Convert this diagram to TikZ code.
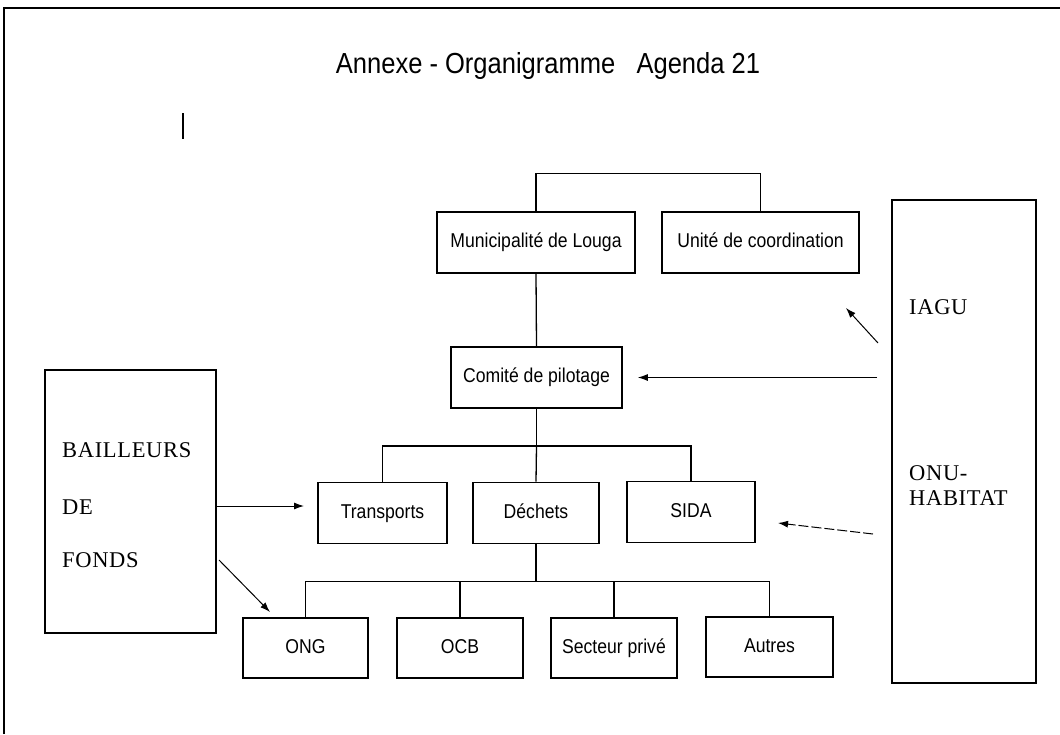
\documentclass[tikz,border=0pt]{standalone}
\usepackage{fontspec}
\setmainfont{Liberation Sans}
\newfontfamily\orgnarrow[FakeStretch=0.88]{Liberation Sans}
\newfontfamily\orgserif[LetterSpace=3]{Liberation Serif}
\usetikzlibrary{arrows.meta}

\begin{document}
\begin{tikzpicture}[x=1pt, y=-1pt, every node/.style={font=\orgnarrow\fontsize{20}{22}\selectfont}, bx/.style={draw, line width=1.7pt, minimum height=61pt, inner sep=0pt, text height=14.5pt, text depth=4pt}, big/.style={draw, line width=2pt, inner sep=0pt}, lbl/.style={anchor=west, inner sep=0pt, font=\orgserif\fontsize{22.5}{25}\selectfont}, ln/.style={line width=1.3pt}, arr/.style={line width=1pt, -{Latex[length=10pt, width=7pt]}}]
	\useasboundingbox (0,0) rectangle (1060,734);
	% page frame and title
	\draw[line width=1.6pt] (4,734) -- (4,8) -- (1060,8);
	\draw[line width=1.5pt] (183,113) -- (183,139);
	\node[font=\orgnarrow\fontsize{29}{32}\selectfont] (title) at (548,66) {Annexe - Organigramme\ \ \ Agenda 21};
	% organigramme
	\node[bx, minimum width=198pt] (mun) at (536,242.5) {Municipalité de Louga}; \node[bx, minimum width=197pt] (unite) at (760.5,242.5) {Unité de coordination};
	\node[bx, minimum width=171pt] (comite) at (536.5,377.5) {Comité de pilotage};
	\node[bx, minimum width=129pt] (transp) at (382.5,513) {Transports}; \node[bx, minimum width=126pt] (dechets) at (536,513) {Déchets}; \node[bx, minimum width=128pt] (sida) at (691,512) {SIDA};
	\node[bx, minimum width=125pt, minimum height=60pt] (ong) at (305.5,648) {ONG}; \node[bx, minimum width=126pt, minimum height=60pt] (ocb) at (460,648) {OCB}; \node[bx, minimum width=126pt, minimum height=60pt] (prive) at (614,648) {Secteur privé}; \node[bx, minimum width=127pt, minimum height=60pt] (autres) at (769.5,647) {Autres};
	\draw[ln] (mun.north) -- ++(0,-38) -| (unite.north);
	\draw[ln] (mun.south) -- (comite.north);
	\draw[ln] (comite.south) -- ++(0,37) coordinate (bar1); \draw[ln] (transp.north) |- (bar1) -| (sida.north); \draw[ln] (bar1) -- (dechets.north);
	\draw[ln] (dechets.south) -- ++(0,37) coordinate (bar2); \draw[ln] (ong.north) |- (bar2) -| (autres.north);
	\foreach \n in {ocb, prive} {\draw[ln] (\n.north) -- (\n.north |- bar2);}
	% partenaires
	\node[big, minimum width=171pt, minimum height=263pt] (bailleurs) at (130.5,501.5) {};
	\node[lbl] (bai1) at (62,450) {BAILLEURS}; \node[lbl] (bai2) at (62,507) {DE}; \node[lbl] (bai3) at (62,560) {FONDS};
	\node[big, minimum width=144pt, minimum height=483pt] (onu) at (964,441.5) {};
	\node[lbl] (iagu) at (909,307) {IAGU}; \node[lbl] (onu1) at (909,473) {ONU-}; \node[lbl] (onu2) at (909,498) {HABITAT};
	\coordinate (iagu-s) at (878,343); \coordinate (iagu-t) at (846,308);
	\coordinate (onu-s) at (873,534); \coordinate (onu-t) at (778,523);
	\coordinate (bai-s) at (217,506); \coordinate (bai-t) at (304,506);
	\coordinate (bai-s2) at (219,560); \coordinate (bai-t2) at (270,612);
	\draw[arr] (iagu-s) -- (iagu-t);
	\draw[arr] ([xshift=-14pt]onu.west |- comite.east) -- ([xshift=15pt]comite.east);
	\draw[arr, dash pattern=on 10pt off 3pt] (onu-s) -- (onu-t);
	\draw[arr] (bai-s) -- (bai-t);
	\draw[arr] (bai-s2) -- (bai-t2);
\end{tikzpicture}
\end{document}
